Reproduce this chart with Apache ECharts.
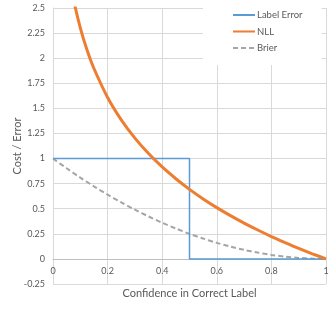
<!DOCTYPE html>
<html><head><meta charset="utf-8">
<script src="https://cdn.jsdelivr.net/npm/echarts@6/dist/echarts.min.js"></script>
<style>html,body{margin:0;padding:0;background:#fff}#c{width:332px;height:309px}</style>
</head><body><div id="c"></div>
<script>
const seriesNames = ['Label Error', 'NLL', 'Brier'];
const labelErrorX = [0, 0.5, 0.5, 1];
const labelErrorY = [1, 1, 0, 0];
const nllX = [0.05, 0.075, 0.1, 0.125, 0.15, 0.2, 0.25, 0.3, 0.35, 0.4, 0.45, 0.5, 0.55, 0.6, 0.65, 0.7, 0.75, 0.8, 0.85, 0.9, 0.95, 1.0];
const nllY = [2.996, 2.590, 2.303, 2.079, 1.897, 1.609, 1.386, 1.204, 1.050, 0.916, 0.799, 0.693, 0.598, 0.511, 0.431, 0.357, 0.288, 0.223, 0.163, 0.105, 0.051, 0.000];
const brierX = [0, 0.05, 0.1, 0.15, 0.2, 0.25, 0.3, 0.35, 0.4, 0.45, 0.5, 0.55, 0.6, 0.65, 0.7, 0.75, 0.8, 0.85, 0.9, 0.95, 1.0];
const brierY = [1.000, 0.903, 0.810, 0.723, 0.640, 0.563, 0.490, 0.423, 0.360, 0.303, 0.250, 0.203, 0.160, 0.123, 0.090, 0.063, 0.040, 0.023, 0.010, 0.003, 0.000];
const xTitle = 'Confidence in Correct Label';
const yTitle = 'Cost / Error';

const zip = (a, b) => a.map((v, i) => [v, b[i]]);
const font = 'Lato, "Liberation Sans", sans-serif';
const chart = echarts.init(document.getElementById('c'), null, {renderer: 'canvas'});
chart.setOption({
  animation: false,
  textStyle: {fontFamily: font},
  grid: {left: 53, right: 6, top: 8, bottom: 25, containLabel: false, outerBoundsMode: 'none'},
  xAxis: {
    type: 'value', min: 0, max: 1, interval: 0.2,
    name: xTitle, nameLocation: 'middle', nameGap: 4, nameMoveOverlap: false,
    nameTextStyle: {color: '#595959', fontSize: 11, fontFamily: font},
    axisLine: {show: true, onZero: true, lineStyle: {color: '#bfbfbf', width: 1}},
    axisTick: {show: false},
    axisLabel: {color: '#595959', fontSize: 9, margin: -17.5, fontFamily: font,
      formatter: v => (v === 0 || v === 1) ? String(v) : v.toFixed(1)},
    splitLine: {show: true, lineStyle: {color: '#d9d9d9', width: 1}}
  },
  yAxis: {
    type: 'value', min: -0.25, max: 2.5, interval: 0.25,
    name: yTitle, nameLocation: 'middle', nameGap: 30, nameRotate: 90, nameMoveOverlap: false,
    nameTextStyle: {color: '#595959', fontSize: 11, fontFamily: font},
    axisLine: {show: true, lineStyle: {color: '#d9d9d9', width: 1}},
    axisTick: {show: false},
    axisLabel: {color: '#595959', fontSize: 9, margin: 8, fontFamily: font},
    splitLine: {show: true, lineStyle: {color: '#d9d9d9', width: 1}}
  },
  legend: {
    orient: 'vertical', left: 203, top: 4,
    backgroundColor: '#ffffff',
    padding: [6, 19, 12, 29],
    itemWidth: 22, itemHeight: 10, itemGap: 6.5,
    itemStyle: {opacity: 0},
    textStyle: {color: '#595959', fontSize: 9.5, fontFamily: font, padding: [0, 0, 0, -3]},
    data: seriesNames
  },
  series: [
    {name: seriesNames[0], type: 'line', data: zip(labelErrorX, labelErrorY), symbol: 'none',
     lineStyle: {color: '#5B9BD5', width: 1.5}, itemStyle: {color: '#5B9BD5'}, z: 3},
    {name: seriesNames[1], type: 'line', data: zip(nllX, nllY), symbol: 'none', smooth: 0.3, clip: true,
     lineStyle: {color: '#ED7D31', width: 3}, itemStyle: {color: '#ED7D31'}, z: 4},
    {name: seriesNames[2], type: 'line', data: zip(brierX, brierY), symbol: 'none', smooth: 0.3,
     lineStyle: {color: '#A5A5A5', width: 2, type: [5, 3]}, itemStyle: {color: '#A5A5A5'}, z: 2}
  ]
});
</script></body></html>
